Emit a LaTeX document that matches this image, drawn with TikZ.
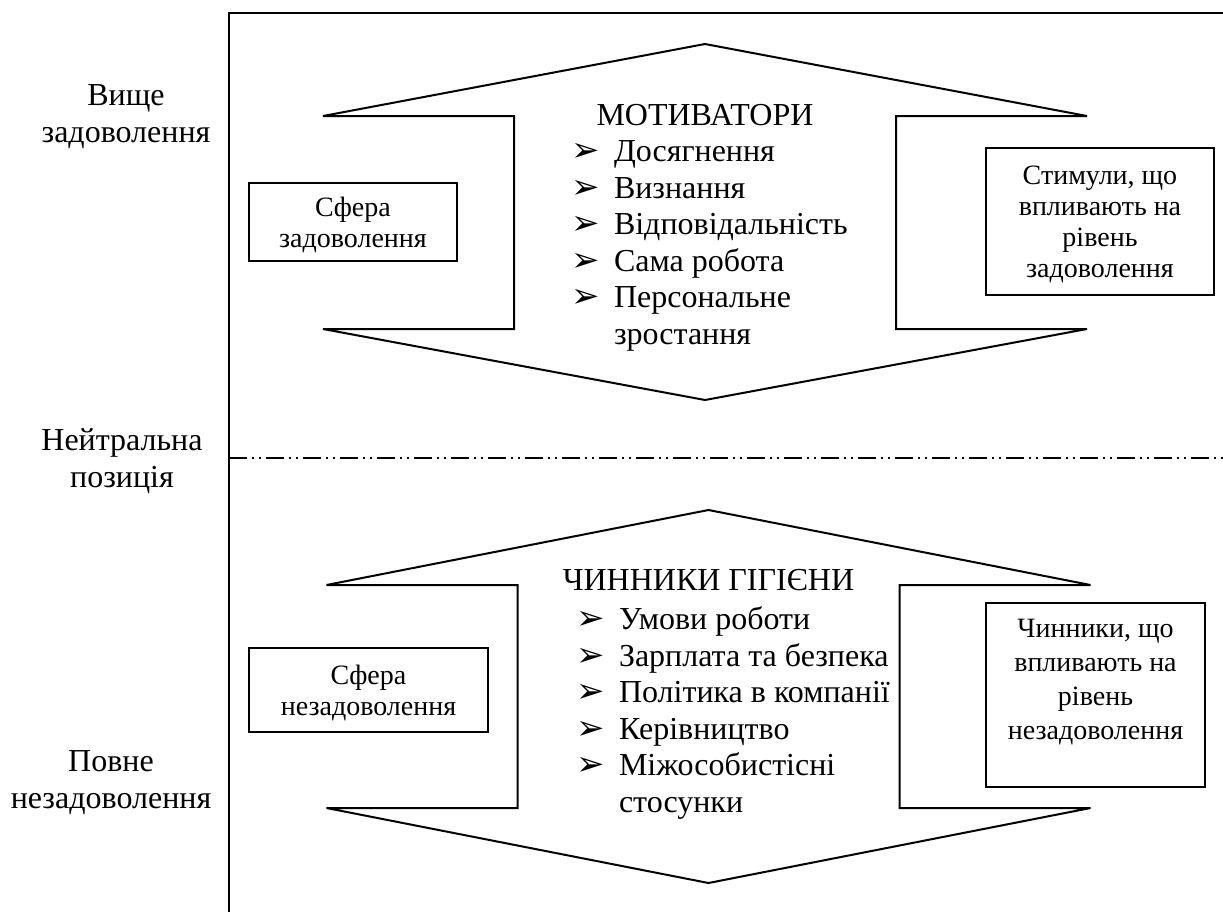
\documentclass[tikz,border=0pt]{standalone}
\usepackage{fontspec}
\setmainfont{Liberation Serif}
\newfontfamily\symf{DejaVu Sans}
\usetikzlibrary{positioning}
\newcommand\bul{\makebox[21.5pt][l]{\symf\fontsize{17}{17}\selectfont ➢}}
\newcommand\ind{\hspace*{21.5pt}}
\begin{document}
\begin{tikzpicture}
	[x=0.5pt,y=-0.5pt,line width=1pt,
	 lvl/.style={align=center,inner sep=0,anchor=base,font=\fontsize{16}{18.5}\selectfont},
	 tag/.style={draw,align=center,inner sep=0,font=\fontsize{14}{15.5}\selectfont,text depth=-3pt},
	 head/.style={inner sep=0,anchor=base,font=\fontsize{16}{18.25}\selectfont},
	 lst/.style={align=left,inner sep=0,anchor=base west,font=\fontsize{16}{18.25}\selectfont},
	 neutral/.style={dash pattern=on 9pt off 2.5pt on 1pt off 2.5pt on 1pt off 2.5pt}]
\useasboundingbox (0,0) rectangle (1223,912);
% axis and levels (base = last line)
\coordinate (o) at (229,13);
\coordinate (e) at (1223,13);
\coordinate (b) at (229,912);
\coordinate (m0) at (229,458);
\coordinate (m1) at (1223,458);
\draw (e) -- (o) -- (b);
\draw[neutral] (m0) -- (m1);
\node[lvl] (hi) at (126,142) {Вище\\задоволення};
\node[lvl] (mid) at (122,487) {Нейтральна\\позиція};
\node[lvl] (lo) at (111,808) {Повне\\незадоволення};
% the two double arrows
\foreach \cx/\ya/\yb/\yc/\yd in {705/44/116/329/400,708.5/510/585/808/883}
\draw (\cx,\ya) -- (\cx+382,\yb) -- (\cx+191,\yb) -- (\cx+191,\yc) -- (\cx+382,\yc)
	-- (\cx,\yd) -- (\cx-382,\yc) -- (\cx-191,\yc) -- (\cx-191,\yb) -- (\cx-382,\yb) -- cycle;
% upper half
\node[head] (motH) at (705,125) {МОТИВАТОРИ};
\node[lst] (motL) at (570,344) {\bul Досягнення\\\bul Визнання\\\bul Відповідальність\\\bul Сама робота\\\bul Персональне\\\ind зростання};
\node[tag,minimum width=104pt,minimum height=39pt] (satL) at (353,222) {Сфера\\задоволення};
\node[tag,minimum width=114pt,minimum height=73.5pt,text depth=-4pt] (satR) at (1100,221.5) {Стимули, що\\впливають на\\рівень\\задоволення};
% lower half
\node[head] (hygH) at (708.5,590) {ЧИННИКИ ГІГІЄНИ};
\node[lst] (hygL) at (575,812) {\bul Умови роботи\\\bul Зарплата та безпека\\\bul Політика в компанії\\\bul Керівництво\\\bul Міжособистісні\\\ind стосунки};
\node[tag,minimum width=119.5pt,minimum height=42pt] (disL) at (368.5,690) {Сфера\\незадоволення};
\node[tag,minimum width=109.5pt,minimum height=92pt,font=\fontsize{14}{17}\selectfont,text depth=16pt] (disR) at (1095.5,695) {Чинники, що\\впливають на\\рівень\\незадоволення};
\end{tikzpicture}
\end{document}
